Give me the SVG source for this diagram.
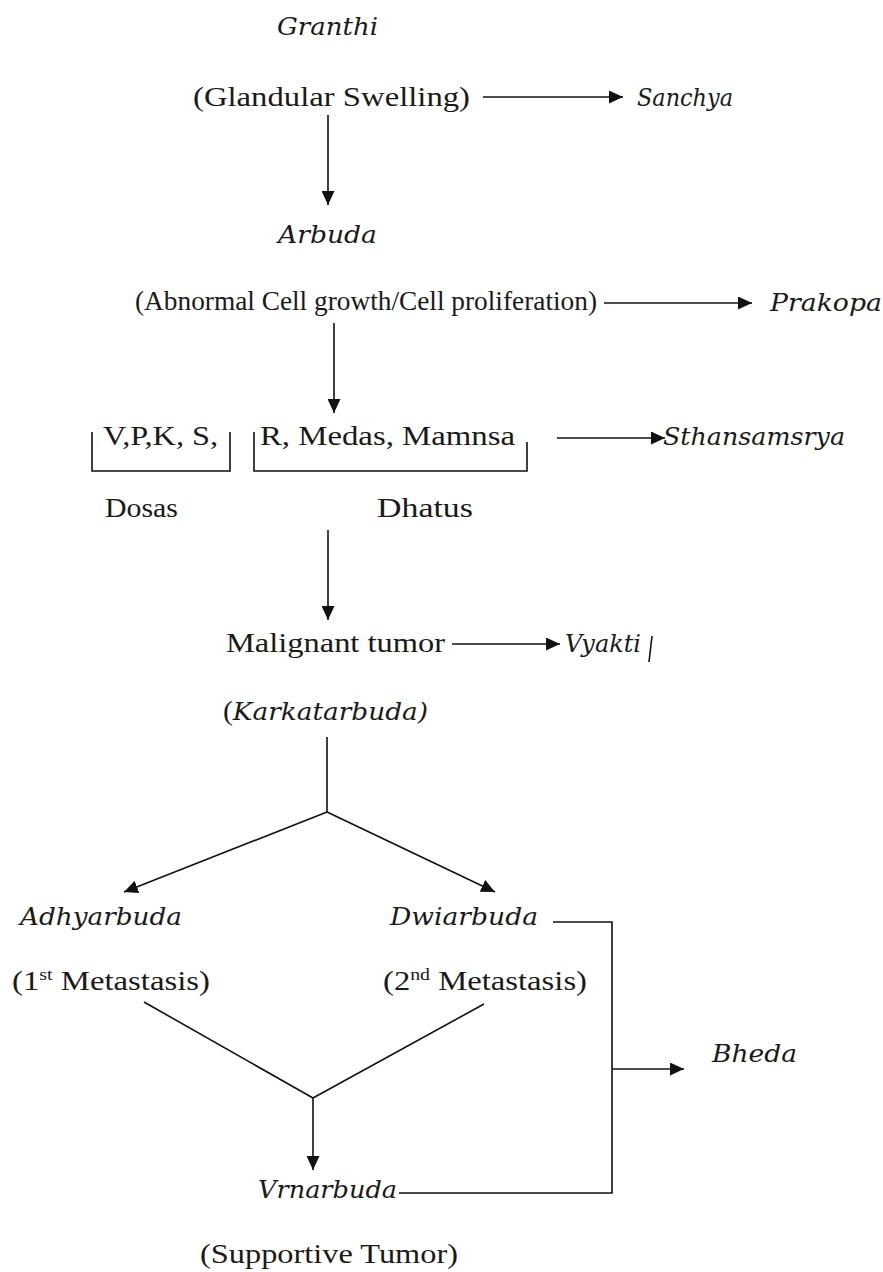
<svg xmlns="http://www.w3.org/2000/svg" width="883" height="1272" viewBox="0 0 883 1272">
<style>
.r{font-family:"Liberation Serif","Times New Roman",serif;font-size:28px;fill:#1a1a1a}
.i{font-family:"DejaVu Serif","Liberation Serif",serif;font-style:italic;font-size:25px;fill:#1a1a1a}
.c{stroke:#111;stroke-width:1.6;fill:none}
</style>
<defs>
<marker id="ah" markerUnits="userSpaceOnUse" markerWidth="15" markerHeight="13" refX="14" refY="6.5" orient="auto">
<path d="M0,0 L14,6.5 L0,13 z" fill="#111"/>
</marker>
</defs>
<rect width="883" height="1272" fill="#fff"/>
<g id="connectors">
<line class="c" x1="483" y1="97" x2="623" y2="97" marker-end="url(#ah)"/>
<line class="c" x1="328" y1="115" x2="328" y2="205" marker-end="url(#ah)"/>
<line class="c" x1="604" y1="303" x2="752" y2="303" marker-end="url(#ah)"/>
<line class="c" x1="334" y1="323" x2="334" y2="413" marker-end="url(#ah)"/>
<path class="c" d="M92,432 V471 H230 V432"/>
<path class="c" d="M254,432 V471 H527 V442"/>
<line class="c" x1="557" y1="438" x2="665" y2="438" marker-end="url(#ah)"/>
<line class="c" x1="328" y1="530" x2="328" y2="620" marker-end="url(#ah)"/>
<line class="c" x1="452" y1="644" x2="560" y2="644" marker-end="url(#ah)"/>
<line class="c" x1="652" y1="636" x2="649" y2="662" stroke-width="1.2"/>
<line class="c" x1="327" y1="737" x2="327" y2="812" stroke-width="2.6"/>
<line class="c" x1="327" y1="812" x2="124" y2="892" marker-end="url(#ah)"/>
<line class="c" x1="327" y1="812" x2="495" y2="892" marker-end="url(#ah)"/>
<path class="c" d="M553,922 H612 V1193 H399"/>
<line class="c" x1="612" y1="1069" x2="684" y2="1069" marker-end="url(#ah)"/>
<line class="c" x1="144" y1="1002" x2="313" y2="1098"/>
<line class="c" x1="484" y1="1004" x2="313" y2="1098"/>
<line class="c" x1="313" y1="1098" x2="313" y2="1170" marker-end="url(#ah)"/>
</g>
<g id="granthi"><text class="i" x="277" y="35" textLength="101" lengthAdjust="spacingAndGlyphs">Granthi</text></g>
<g id="glandular"><text class="r" x="193" y="106" textLength="277" lengthAdjust="spacingAndGlyphs">(Glandular Swelling)</text></g>
<g id="sanchya"><text class="i" x="637" y="106" textLength="96" lengthAdjust="spacingAndGlyphs">Sanchya</text></g>
<g id="arbuda"><text class="i" x="278" y="243" textLength="99" lengthAdjust="spacingAndGlyphs">Arbuda</text></g>
<g id="abnormal"><text class="r" x="135" y="310" textLength="462" lengthAdjust="spacingAndGlyphs">(Abnormal Cell growth/Cell proliferation)</text></g>
<g id="prakopa"><text class="i" x="770" y="311" textLength="112" lengthAdjust="spacingAndGlyphs">Prakopa</text></g>
<g id="dosas-items"><text class="r" x="103" y="445" textLength="115" lengthAdjust="spacingAndGlyphs">V,P,K, S,</text></g>
<g id="dhatus-items"><text class="r" x="260" y="445" textLength="255" lengthAdjust="spacingAndGlyphs">R, Medas, Mamnsa</text></g>
<g id="sthansamsrya"><text class="i" x="663" y="445" textLength="182" lengthAdjust="spacingAndGlyphs">Sthansamsrya</text></g>
<g id="dosas"><text class="r" x="105" y="517" textLength="73" lengthAdjust="spacingAndGlyphs">Dosas</text></g>
<g id="dhatus"><text class="r" x="377" y="517" textLength="96" lengthAdjust="spacingAndGlyphs">Dhatus</text></g>
<g id="malignant"><text class="r" x="226" y="652" textLength="219" lengthAdjust="spacingAndGlyphs">Malignant tumor</text></g>
<g id="vyakti"><text class="i" x="565" y="652" textLength="76" lengthAdjust="spacingAndGlyphs">Vyakti</text></g>
<g id="karkatarbuda"><text class="r" x="223" y="720" textLength="205" lengthAdjust="spacingAndGlyphs">(<tspan class="i" font-size="25">Karkatarbuda)</tspan></text></g>
<g id="adhyarbuda"><text class="i" x="20" y="925" textLength="162" lengthAdjust="spacingAndGlyphs">Adhyarbuda</text></g>
<g id="dwiarbuda"><text class="i" x="390" y="925" textLength="148" lengthAdjust="spacingAndGlyphs">Dwiarbuda</text></g>
<g id="meta1"><text class="r" x="12" y="990" textLength="198" lengthAdjust="spacingAndGlyphs">(1<tspan font-size="17" dy="-10">st</tspan><tspan dy="10"> Metastasis)</tspan></text></g>
<g id="meta2"><text class="r" x="383" y="990" textLength="204" lengthAdjust="spacingAndGlyphs">(2<tspan font-size="17" dy="-10">nd</tspan><tspan dy="10"> Metastasis)</tspan></text></g>
<g id="bheda"><text class="i" x="712" y="1062" textLength="85" lengthAdjust="spacingAndGlyphs">Bheda</text></g>
<g id="vrnarbuda"><text class="i" x="258" y="1198" textLength="139" lengthAdjust="spacingAndGlyphs">Vrnarbuda</text></g>
<g id="supportive"><text class="r" x="200" y="1263" textLength="258" lengthAdjust="spacingAndGlyphs">(Supportive Tumor)</text></g>
</svg>
